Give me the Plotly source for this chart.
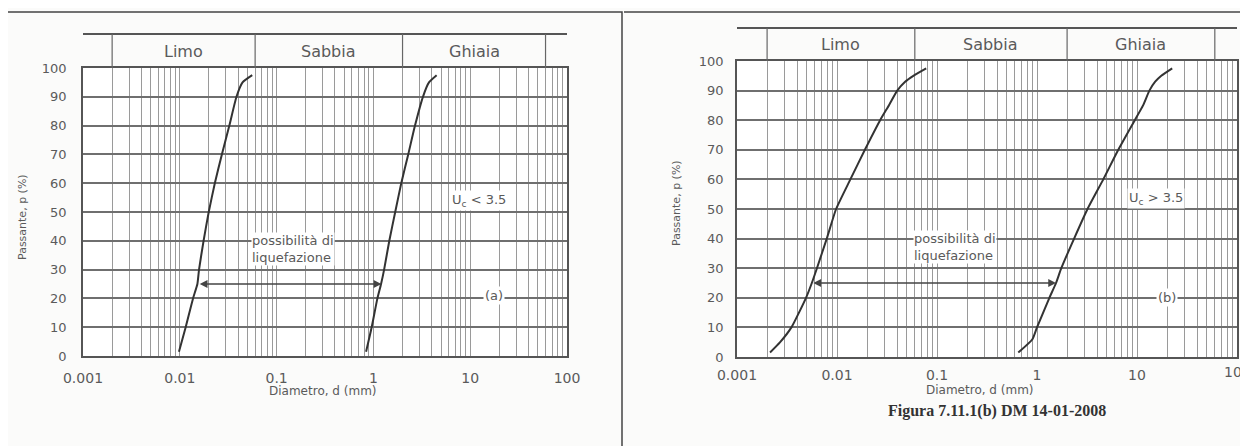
import numpy as np
import plotly.graph_objects as go

# ---------------- data ----------------
# panel (a): Uc < 3.5
a_left_d = [0.0098, 0.0115, 0.0137, 0.0152, 0.0158, 0.0176, 0.0199, 0.023, 0.0272, 0.0325, 0.0385, 0.0445, 0.056]
a_left_p = [1.5, 10, 20, 25, 30, 40, 50, 60, 70, 80, 90, 95, 97.5]
a_right_d = [0.84, 0.96, 1.1, 1.2, 1.29, 1.46, 1.68, 1.94, 2.29, 2.69, 3.25, 3.75, 4.5]
a_right_p = [1.5, 10, 20, 25, 30, 40, 50, 60, 70, 80, 90, 95, 97.5]
# panel (b): Uc > 3.5
b_left_d = [0.00214, 0.0027, 0.0035, 0.0049, 0.0056, 0.0063, 0.0079, 0.0098, 0.0136, 0.019, 0.027, 0.033, 0.040, 0.048, 0.058, 0.078]
b_left_p = [1.5, 5, 10, 20, 25, 30, 40, 50, 60, 70, 80, 85, 90, 93, 95, 97.5]
b_right_d = [0.65, 0.9, 1.0, 1.33, 1.55, 1.75, 2.35, 3.2, 4.6, 6.5, 9.5, 11.5, 13.3, 15.2, 17.5, 22.5]
b_right_p = [1.5, 6, 10, 20, 25, 30, 40, 50, 60, 70, 80, 85, 90, 93, 95, 97.5]

arrow_a = [0.0155, 1.21]   # liquefaction range arrow at p = 25
arrow_b = [0.0056, 1.55]
arrow_p = 25

x_tickvals = [0.001, 0.01, 0.1, 1, 10, 100]
x_ticktext = ["0.001", "0.01", "0.1", "1", "10", "100"]
y_tickvals = list(range(0, 101, 10))

zone_bounds = [0.002, 0.06, 2, 60]
zone_names = ["Limo", "Sabbia", "Ghiaia"]

# the page body has an 8px margin: the figure occupies screen pixels 8..1248 x 8..446
OFF = 8
W, H = 1248 - OFF, 446 - OFF
FONT = "DejaVu Sans, Verdana, sans-serif"
TXT = "#5a5a5a"
GRID = "#9a9a9a"
HGRID = "#6f6f6f"
LINE = "#333333"

def px(x):
    return (x - OFF) / W

def py(y):
    return 1 - (y - OFF) / H

fig = go.Figure()

panels = [
    dict(xa="x", ya="y", left=(a_left_d, a_left_p), right=(a_right_d, a_right_p), arrow=arrow_a,
         xdom=[px(83), px(567)], ydom=[py(356), py(68)], htop=py(34),
         xticklen=8, yticklen=12,
         uc="U<sub>c</sub> < 3.5", uc_pos=(12.3, 54), tag="(a)", tag_pos=(17.5, 21),
         txt_x=0.054, ytitle=(px(22), py(217)), xtitle=(px(323), py(391))),
    dict(xa="x2", ya="y2", left=(b_left_d, b_left_p), right=(b_right_d, b_right_p), arrow=arrow_b,
         xdom=[px(737), px(1237)], ydom=[py(357), py(61)], htop=py(28),
         xticklen=4, yticklen=9,
         uc="U<sub>c</sub> > 3.5", uc_pos=(15.5, 53.5), tag="(b)", tag_pos=(20, 20),
         txt_x=0.057, ytitle=(px(676), py(203)), xtitle=(px(980), py(390))),
]

shapes = []
annotations = []

def note(**kw):
    kw.setdefault("xanchor", "center")
    kw.setdefault("yanchor", "middle")
    kw.setdefault("showarrow", False)
    annotations.append(kw)

for i, pnl in enumerate(panels):
    xa, ya = pnl["xa"], pnl["ya"]
    for d, p in (pnl["left"], pnl["right"]):
        fig.add_trace(go.Scatter(x=d, y=p, mode="lines", xaxis=xa, yaxis=ya,
                                 line=dict(color=LINE, width=2, shape="spline", smoothing=0.5),
                                 showlegend=False, hoverinfo="skip"))
    suffix = "" if i == 0 else "2"
    fig.update_layout(**{
        "xaxis" + suffix: dict(
            type="log", range=[-3, 2], domain=pnl["xdom"], anchor=ya, automargin=False,
            tickvals=x_tickvals, ticktext=x_ticktext,
            ticks="outside", ticklen=pnl["xticklen"], tickcolor="rgba(0,0,0,0)",
            tickfont=dict(family=FONT, size=14, color=TXT),
            showgrid=True, gridcolor=GRID, gridwidth=1,
            minor=dict(dtick="D1", showgrid=True, gridcolor=GRID, gridwidth=1, ticks=""),
            showline=True, linecolor="#555555", linewidth=1.5, mirror=True,
            zeroline=False, fixedrange=True,
        ),
        "yaxis" + suffix: dict(
            range=[0, 100], domain=pnl["ydom"], anchor=xa, automargin=False,
            tickvals=y_tickvals,
            ticks="outside", ticklen=pnl["yticklen"], tickcolor="rgba(0,0,0,0)",
            tickfont=dict(family=FONT, size=13, color=TXT),
            showgrid=True, gridcolor=HGRID, gridwidth=1.5,
            showline=True, linecolor="#555555", linewidth=1.5, mirror=True,
            zeroline=False, fixedrange=True,
        ),
    })

    # header band (shape coordinates on log axis are data values)
    ytop_plot = pnl["ydom"][1]
    shapes.append(dict(type="line", xref=xa, yref="paper",
                       x0=x_tickvals[0], x1=x_tickvals[-1], y0=pnl["htop"], y1=pnl["htop"],
                       line=dict(color="#555555", width=2)))
    for b in zone_bounds:
        shapes.append(dict(type="line", xref=xa, yref="paper",
                           x0=b, x1=b, y0=ytop_plot, y1=pnl["htop"],
                           line=dict(color="#666666", width=1.2)))
    for k, name in enumerate(zone_names):
        xc = (np.log10(zone_bounds[k]) + np.log10(zone_bounds[k + 1])) / 2
        note(x=xc, y=(ytop_plot + pnl["htop"]) / 2, xref=xa, yref="paper",
             text=name, font=dict(family=FONT, size=16, color=TXT))

    # double arrow (annotation coordinates on log axis are log10 values)
    a0, a1 = pnl["arrow"]
    annotations.append(dict(x=np.log10(a1), y=arrow_p, ax=np.log10(a0), ay=arrow_p,
                            xref=xa, yref=ya, axref=xa, ayref=ya, text="",
                            showarrow=True, arrowhead=2, startarrowhead=2, arrowside="end+start",
                            arrowsize=1.2, arrowwidth=1.3, arrowcolor="#444444",
                            startstandoff=0, standoff=0))
    # texts
    note(x=np.log10(pnl["txt_x"]), y=37, xref=xa, yref=ya,
         text="possibilità di<br>liquefazione", xanchor="left", align="left",
         bgcolor="white", borderpad=0, font=dict(family=FONT, size=13, color=TXT))
    note(x=np.log10(pnl["uc_pos"][0]), y=pnl["uc_pos"][1], xref=xa, yref=ya,
         text=pnl["uc"], bgcolor="white", borderpad=1, font=dict(family=FONT, size=13, color=TXT))
    note(x=np.log10(pnl["tag_pos"][0]), y=pnl["tag_pos"][1], xref=xa, yref=ya,
         text=pnl["tag"], bgcolor="white", borderpad=1, font=dict(family=FONT, size=13, color=TXT))
    # axis titles
    note(x=pnl["ytitle"][0], y=pnl["ytitle"][1], xref="paper", yref="paper",
         text="Passante, p (%)", textangle=-90, font=dict(family=FONT, size=11, color=TXT))
    note(x=pnl["xtitle"][0], y=pnl["xtitle"][1], xref="paper", yref="paper",
         text="Diametro, d (mm)", font=dict(family=FONT, size=12, color=TXT))

# the last tick label of panel (b) runs past the page edge (cut off in the scan); plotly drops it,
# so it is drawn as a note at the same axis position
note(x=np.log10(x_tickvals[-1]), y=py(372), xref="x2", yref="paper",
     text=x_ticktext[-1], font=dict(family=FONT, size=14, color=TXT))

# caption
note(x=px(997), y=py(411), xref="paper", yref="paper",
     text="<b>Figura 7.11.1(b) DM 14-01-2008</b>",
     font=dict(family="Liberation Serif, Times New Roman, serif", size=16, color="#333333"))

# frames of the scanned page
shapes.append(dict(type="rect", xref="paper", yref="paper",
                   x0=px(7), x1=px(622), y0=py(12), y1=py(470),
                   line=dict(color="#444444", width=1.5), layer="below"))
shapes.append(dict(type="line", xref="paper", yref="paper",
                   x0=px(624), x1=1, y0=py(12), y1=py(12),
                   line=dict(color="#444444", width=1.5)))

fig.update_layout(
    width=W, height=H,
    margin=dict(l=0, r=0, t=0, b=0),
    paper_bgcolor="#fbfbfa",
    plot_bgcolor="#ffffff",
    showlegend=False,
    shapes=shapes,
    annotations=annotations,
)

fig.write_html("out.html")
